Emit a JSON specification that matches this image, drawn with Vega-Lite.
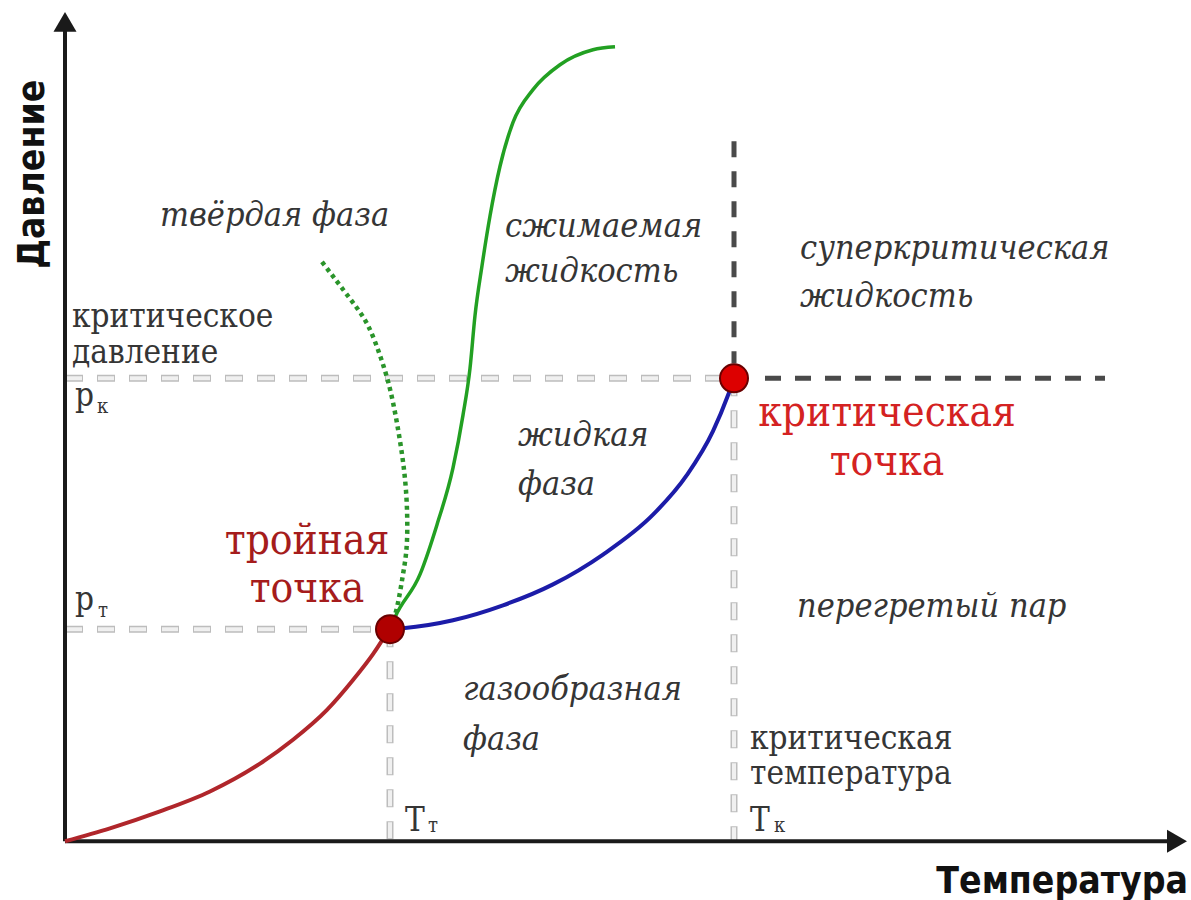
{
  "$schema": "https://vega.github.io/schema/vega-lite/v6.json",
  "width": 1191,
  "height": 900,
  "padding": 0,
  "autosize": {"type": "fit", "contains": "padding"},
  "background": "white",
  "config": {"view": {"stroke": null}},
  "encoding": {
    "x": {"field": "T", "type": "quantitative", "scale": {"domain": [-65, 1126], "nice": false, "zero": false}, "axis": null},
    "y": {"field": "P", "type": "quantitative", "scale": {"domain": [-55, 845], "nice": false, "zero": false}, "axis": null}
  },
  "layer": [
    {
      "data": {"values": [
        {"T": 0, "T2": 669, "P": 465, "P2": 465},
        {"T": 0, "T2": 325, "P": 213, "P2": 213},
        {"T": 325, "T2": 325, "P": 213, "P2": 0},
        {"T": 669, "T2": 669, "P": 465, "P2": 0}
      ]},
      "layer": [
        {"mark": {"type": "rule", "color": "#bdbdbd", "strokeWidth": 7, "strokeDash": [18, 14]},
         "encoding": {"x2": {"field": "T2"}, "y2": {"field": "P2"}}},
        {"mark": {"type": "rule", "color": "#f0f0f0", "strokeWidth": 4, "strokeDash": [16, 16], "strokeDashOffset": 31},
         "encoding": {"x2": {"field": "T2"}, "y2": {"field": "P2"}}}
      ]
    },
    {
      "data": {"values": [
        {"T": 669, "T2": 669, "P": 703, "P2": 480},
        {"T": 700, "T2": 1040, "P": 465, "P2": 465}
      ]},
      "mark": {"type": "rule", "color": "#4a4a4a", "strokeWidth": 5, "strokeDash": [16, 14]},
      "encoding": {"x2": {"field": "T2"}, "y2": {"field": "P2"}}
    },
    {
      "data": {"values": [
        {"T": 0, "T2": 0, "P": 0, "P2": 815},
        {"T": 0, "T2": 1105, "P": 0, "P2": 0}
      ]},
      "mark": {"type": "rule", "color": "#1a1a1a", "strokeWidth": 4},
      "encoding": {"x2": {"field": "T2"}, "y2": {"field": "P2"}}
    },
    {
      "data": {"values": [{"T": 0, "P": 823}]},
      "mark": {"type": "point", "shape": "triangle-up", "filled": true, "color": "#1a1a1a", "opacity": 1, "size": 530},
      "encoding": {}
    },
    {
      "data": {"values": [{"T": 1112, "P": 0}]},
      "mark": {"type": "point", "shape": "triangle-right", "filled": true, "color": "#1a1a1a", "opacity": 1, "size": 530},
      "encoding": {}
    },
    {
      "data": {"values": [
        {"i": 0, "T": 0, "P": 0}, {"i": 1, "T": 45, "P": 13}, {"i": 2, "T": 95, "P": 30},
        {"i": 3, "T": 145, "P": 50}, {"i": 4, "T": 195, "P": 78}, {"i": 5, "T": 228, "P": 102},
        {"i": 6, "T": 262, "P": 132}, {"i": 7, "T": 288, "P": 162}, {"i": 8, "T": 308, "P": 188},
        {"i": 9, "T": 318, "P": 203}, {"i": 10, "T": 325, "P": 213}
      ]},
      "mark": {"type": "line", "color": "#b0262b", "strokeWidth": 4, "interpolate": "monotone"},
      "encoding": {"order": {"field": "i"}}
    },
    {
      "data": {"values": [
        {"i": 0, "T": 325, "P": 213}, {"i": 1, "T": 338, "P": 214}, {"i": 2, "T": 388, "P": 222},
        {"i": 3, "T": 438, "P": 237}, {"i": 4, "T": 488, "P": 258}, {"i": 5, "T": 538, "P": 288},
        {"i": 6, "T": 588, "P": 328}, {"i": 7, "T": 622, "P": 368}, {"i": 8, "T": 648, "P": 412},
        {"i": 9, "T": 663, "P": 448}, {"i": 10, "T": 669, "P": 465}
      ]},
      "mark": {"type": "line", "color": "#1c1ca8", "strokeWidth": 4, "interpolate": "monotone"},
      "encoding": {"order": {"field": "i"}}
    },
    {
      "data": {"values": [
        {"i": 0, "T": 325, "P": 213}, {"i": 1, "T": 330, "P": 225}, {"i": 2, "T": 355, "P": 268},
        {"i": 3, "T": 372, "P": 318}, {"i": 4, "T": 388, "P": 375}, {"i": 5, "T": 398, "P": 428},
        {"i": 6, "T": 405, "P": 475}, {"i": 7, "T": 410, "P": 528}, {"i": 8, "T": 417, "P": 578},
        {"i": 9, "T": 425, "P": 628}, {"i": 10, "T": 435, "P": 678}, {"i": 11, "T": 448, "P": 722},
        {"i": 12, "T": 468, "P": 755}, {"i": 13, "T": 495, "P": 780}, {"i": 14, "T": 528, "P": 795},
        {"i": 15, "T": 550, "P": 798}
      ]},
      "mark": {"type": "line", "color": "#22a022", "strokeWidth": 3.5, "interpolate": "monotone"},
      "encoding": {"order": {"field": "i"}}
    },
    {
      "data": {"values": [
        {"i": 0, "T": 257, "P": 582}, {"i": 1, "T": 285, "P": 545}, {"i": 2, "T": 303, "P": 518},
        {"i": 3, "T": 316, "P": 485}, {"i": 4, "T": 326, "P": 450}, {"i": 5, "T": 335, "P": 402},
        {"i": 6, "T": 341, "P": 352}, {"i": 7, "T": 342, "P": 302}, {"i": 8, "T": 338, "P": 268},
        {"i": 9, "T": 332, "P": 235}, {"i": 10, "T": 325, "P": 213}
      ]},
      "mark": {"type": "line", "color": "#2a942a", "strokeWidth": 4.5, "strokeDash": [4, 4], "interpolate": "natural"},
      "encoding": {"order": {"field": "i"}}
    },
    {
      "data": {"values": [
        {"name": "тройная точка", "T": 325, "P": 213},
        {"name": "критическая точка", "T": 669, "P": 465}
      ]},
      "mark": {"type": "point", "filled": true, "opacity": 1, "size": 784, "stroke": "#6a0000", "strokeWidth": 2},
      "encoding": {
        "fill": {"field": "name", "type": "nominal", "scale": {"domain": ["тройная точка", "критическая точка"], "range": ["#b00000", "#dd0000"]}, "legend": null}
      }
    },
    {
      "data": {"values": [
        {"T": 95, "P": 618, "text": "твёрдая фаза"},
        {"T": 440, "P": 607, "text": "сжимаемая"},
        {"T": 440, "P": 562, "text": "жидкость"},
        {"T": 735, "P": 585, "text": "суперкритическая"},
        {"T": 735, "P": 537, "text": "жидкость"},
        {"T": 453, "P": 397, "text": "жидкая"},
        {"T": 453, "P": 348, "text": "фаза"},
        {"T": 732, "P": 225, "text": "перегретый пар"},
        {"T": 398, "P": 142, "text": "газообразная"},
        {"T": 398, "P": 92, "text": "фаза"}
      ]},
      "mark": {"type": "text", "font": "DejaVu Serif Condensed, DejaVu Serif", "fontStyle": "italic", "fontSize": 34, "color": "#353535", "align": "left", "baseline": "alphabetic"},
      "encoding": {"text": {"field": "text"}}
    },
    {
      "data": {"values": [
        {"T": 7, "P": 517, "text": "критическое"},
        {"T": 7, "P": 480, "text": "давление"},
        {"T": 685, "P": 93, "text": "критическая"},
        {"T": 685, "P": 57, "text": "температура"},
        {"T": 10, "P": 437, "text": "p"},
        {"T": 10, "P": 232, "text": "p"},
        {"T": 340, "P": 10, "text": "T"},
        {"T": 685, "P": 10, "text": "T"}
      ]},
      "mark": {"type": "text", "font": "DejaVu Serif Condensed, DejaVu Serif", "fontSize": 33, "color": "#353535", "align": "left", "baseline": "alphabetic"},
      "encoding": {"text": {"field": "text"}}
    },
    {
      "data": {"values": [
        {"T": 32, "P": 430, "text": "к"},
        {"T": 33, "P": 225, "text": "т"},
        {"T": 363, "P": 9, "text": "т"},
        {"T": 709, "P": 9, "text": "к"}
      ]},
      "mark": {"type": "text", "font": "DejaVu Serif Condensed, DejaVu Serif", "fontSize": 20, "color": "#353535", "align": "left", "baseline": "alphabetic"},
      "encoding": {"text": {"field": "text"}}
    },
    {
      "data": {"values": [
        {"T": 242, "P": 289, "text": "тройная"},
        {"T": 242, "P": 240, "text": "точка"}
      ]},
      "mark": {"type": "text", "font": "DejaVu Serif Condensed, DejaVu Serif", "fontSize": 42, "color": "#a51c1c", "align": "center", "baseline": "alphabetic"},
      "encoding": {"text": {"field": "text"}}
    },
    {
      "data": {"values": [
        {"T": 822, "P": 417, "text": "критическая"},
        {"T": 822, "P": 368, "text": "точка"}
      ]},
      "mark": {"type": "text", "font": "DejaVu Serif Condensed, DejaVu Serif", "fontSize": 42, "color": "#d42222", "align": "center", "baseline": "alphabetic"},
      "encoding": {"text": {"field": "text"}}
    },
    {
      "data": {"values": [{"T": 1123, "P": -52, "text": "Температура"}]},
      "mark": {"type": "text", "font": "DejaVu Sans Condensed, DejaVu Sans", "fontWeight": "bold", "fontSize": 37, "color": "#111111", "align": "right", "baseline": "alphabetic"},
      "encoding": {"text": {"field": "text"}}
    },
    {
      "data": {"values": [{"T": -21, "P": 670, "text": "Давление"}]},
      "mark": {"type": "text", "font": "DejaVu Sans Condensed, DejaVu Sans", "fontWeight": "bold", "fontSize": 37, "color": "#111111", "align": "center", "baseline": "alphabetic", "angle": 270},
      "encoding": {"text": {"field": "text"}}
    }
  ]
}
